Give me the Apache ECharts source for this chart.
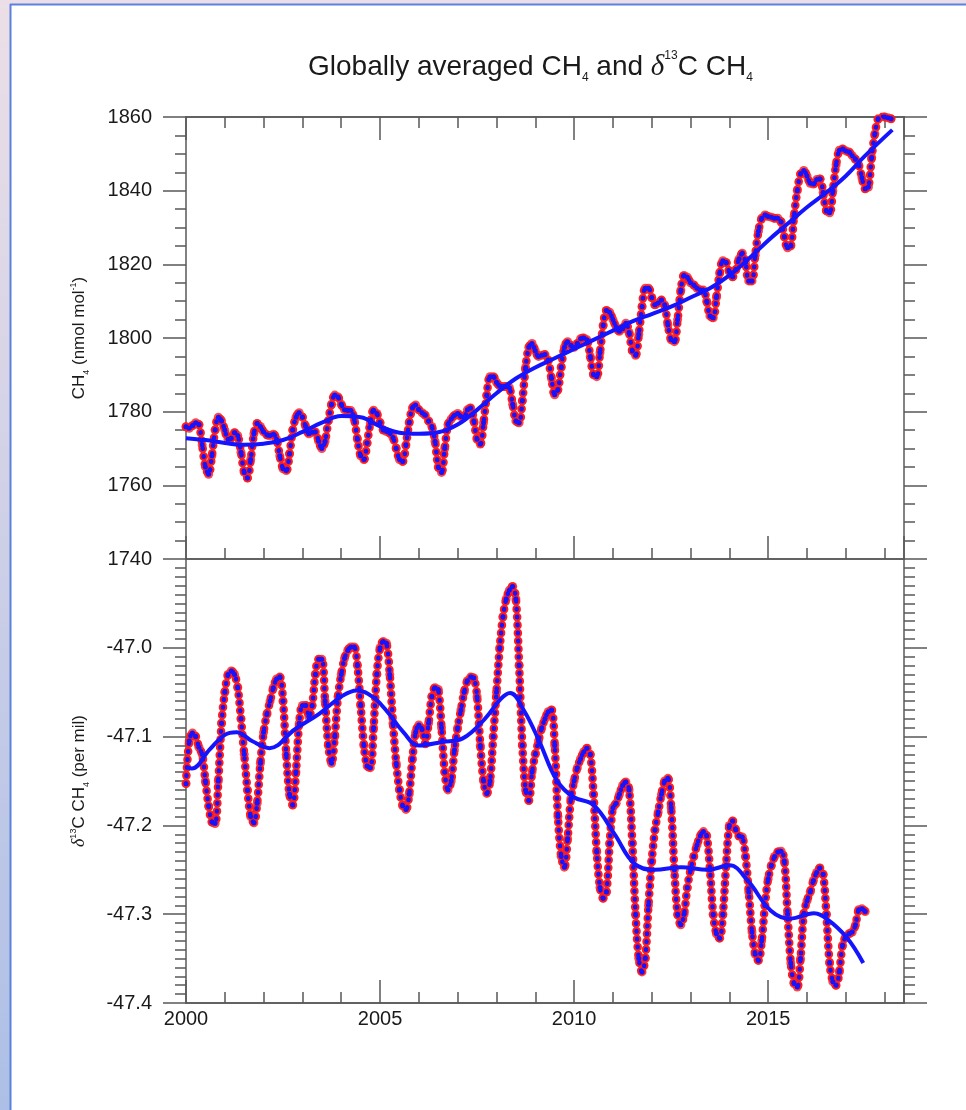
<!DOCTYPE html>
<html>
<head>
<meta charset="utf-8">
<title>Globally averaged CH4 and d13C CH4</title>
<script src="https://cdn.jsdelivr.net/npm/echarts@6/dist/echarts.min.js"></script>
<style>
  html, body { margin: 0; padding: 0; background: #fff; }
  #main { width: 966px; height: 1110px; }
</style>
</head>
<body>
<div id="main"></div>
<script>
// monthly CH4 (nmol/mol), Jan 2000 ... Mar 2018
var ch4Monthly = [
  1775.9,1775.5,1776.2,1777.0,1776.5,1771.0,1765.0,1763.0,1768.0,1775.0,1778.5,1777.5, // 2000
  1775.0,1772.5,1772.8,1774.3,1773.5,1769.0,1763.5,1762.0,1767.0,1774.0,1776.8,1776.0, // 2001
  1774.5,1773.7,1773.5,1773.9,1772.5,1768.0,1764.5,1764.0,1768.5,1775.0,1778.5,1779.7, // 2002
  1778.5,1776.0,1774.0,1774.4,1774.5,1772.0,1770.0,1772.0,1777.5,1782.0,1784.5,1784.0, // 2003
  1782.0,1780.5,1780.4,1780.3,1778.0,1772.5,1768.0,1767.0,1771.5,1777.0,1780.4,1779.5, // 2004
  1777.0,1775.0,1774.6,1774.2,1773.0,1770.0,1767.0,1766.5,1771.0,1777.0,1781.0,1781.8, // 2005
  1780.5,1779.7,1779.0,1777.5,1776.0,1772.0,1765.0,1763.5,1770.0,1776.5,1778.0,1779.0, // 2006
  1779.5,1778.7,1778.5,1780.5,1781.0,1777.5,1772.5,1771.2,1777.0,1784.5,1789.5,1789.5, // 2007
  1788.0,1787.0,1786.8,1786.8,1786.5,1782.0,1777.5,1777.0,1783.0,1792.0,1797.5,1798.5, // 2008
  1796.5,1795.0,1795.3,1795.5,1794.0,1789.0,1784.6,1786.0,1792.0,1797.5,1799.0,1798.0, // 2009
  1797.5,1798.5,1799.8,1800.0,1799.5,1795.0,1790.0,1789.5,1796.0,1803.5,1807.5,1807.0, // 2010
  1805.0,1803.0,1801.8,1802.5,1804.0,1801.5,1796.5,1795.3,1801.0,1808.5,1813.5,1813.5, // 2011
  1811.0,1809.0,1809.5,1810.3,1809.0,1803.5,1799.5,1799.0,1805.0,1813.0,1817.0,1816.5, // 2012
  1815.0,1814.4,1813.5,1813.0,1813.0,1810.0,1806.0,1805.5,1811.0,1817.5,1821.0,1820.5, // 2013
  1818.0,1816.6,1818.5,1821.5,1823.0,1820.5,1815.5,1815.5,1822.5,1829.0,1832.5,1833.4, // 2014
  1833.0,1832.8,1832.5,1832.5,1831.5,1827.5,1824.5,1825.0,1833.0,1840.0,1844.5,1845.5, // 2015
  1844.0,1842.0,1841.8,1843.0,1843.2,1839.5,1834.5,1834.0,1840.0,1847.0,1851.0,1851.3, // 2016
  1850.8,1850.5,1849.5,1848.5,1847.0,1843.5,1840.5,1841.0,1849.0,1855.5,1859.5,1860.5, // 2017
  1860.0,1859.8,1859.5                                                                 // 2018
];

// deseasonalised CH4 trend
var ch4TrendYears  = [2000, 2000.5, 2001, 2001.5, 2002, 2002.5, 2003, 2003.5, 2004, 2004.5, 2005, 2005.5, 2006, 2006.5,
                      2007, 2007.5, 2008, 2008.5, 2009, 2009.5, 2010, 2010.5, 2011, 2011.5, 2012, 2012.5, 2013, 2013.5,
                      2014, 2014.5, 2015, 2015.5, 2016, 2016.5, 2017, 2017.5, 2018.2];
var ch4TrendValues = [1772.8, 1772.3, 1771.5, 1771.0, 1771.3, 1772.3, 1774.5, 1777.0, 1778.8, 1778.5, 1776.0, 1774.3, 1774.0, 1774.4,
                      1776.5, 1780.5, 1785.0, 1789.0, 1792.0, 1794.5, 1797.0, 1799.5, 1802.0, 1804.5, 1806.5, 1808.5, 1811.0, 1813.5,
                      1817.0, 1821.5, 1826.5, 1831.0, 1835.5, 1839.5, 1844.0, 1849.5, 1856.5];

// monthly d13C of CH4 (per mil), Jan 2000 ... Jul 2017
var d13Monthly = [
  -47.153,-47.105,-47.096,-47.100,-47.112,-47.120,-47.150,-47.178,-47.196,-47.198,-47.150,-47.085, // 2000
  -47.050,-47.030,-47.026,-47.030,-47.045,-47.080,-47.120,-47.160,-47.190,-47.197,-47.175,-47.130, // 2001
  -47.095,-47.075,-47.060,-47.045,-47.035,-47.033,-47.060,-47.120,-47.165,-47.177,-47.140,-47.085, // 2002
  -47.065,-47.065,-47.078,-47.065,-47.030,-47.013,-47.013,-47.060,-47.110,-47.130,-47.100,-47.055, // 2003
  -47.030,-47.012,-47.003,-46.999,-46.999,-47.020,-47.065,-47.110,-47.133,-47.135,-47.090,-47.030, // 2004
  -47.000,-46.993,-46.995,-47.030,-47.085,-47.130,-47.160,-47.178,-47.182,-47.165,-47.125,-47.095, // 2005
  -47.087,-47.092,-47.108,-47.085,-47.055,-47.045,-47.047,-47.090,-47.140,-47.160,-47.150,-47.115, // 2006
  -47.090,-47.070,-47.050,-47.037,-47.033,-47.034,-47.055,-47.110,-47.150,-47.164,-47.150,-47.100, // 2007
  -47.050,-47.000,-46.965,-46.945,-46.935,-46.931,-46.945,-47.020,-47.110,-47.160,-47.172,-47.140, // 2008
  -47.120,-47.105,-47.090,-47.080,-47.072,-47.070,-47.110,-47.190,-47.235,-47.247,-47.215,-47.170, // 2009
  -47.150,-47.135,-47.125,-47.117,-47.113,-47.120,-47.165,-47.230,-47.270,-47.282,-47.275,-47.220, // 2010
  -47.180,-47.175,-47.165,-47.155,-47.151,-47.160,-47.220,-47.300,-47.350,-47.365,-47.350,-47.290, // 2011
  -47.240,-47.205,-47.185,-47.165,-47.150,-47.147,-47.180,-47.250,-47.300,-47.312,-47.300,-47.270, // 2012
  -47.250,-47.235,-47.222,-47.212,-47.207,-47.212,-47.250,-47.300,-47.322,-47.327,-47.300,-47.245, // 2013
  -47.200,-47.195,-47.205,-47.212,-47.213,-47.235,-47.275,-47.320,-47.345,-47.352,-47.330,-47.290, // 2014
  -47.260,-47.245,-47.235,-47.230,-47.229,-47.240,-47.300,-47.355,-47.378,-47.382,-47.350,-47.300, // 2015
  -47.285,-47.275,-47.262,-47.253,-47.248,-47.255,-47.300,-47.355,-47.376,-47.380,-47.365,-47.335, // 2016
  -47.325,-47.322,-47.320,-47.312,-47.295,-47.294,-47.297                                          // 2017
];

// d13C trend
var d13TrendYears  = [2000, 2000.15, 2000.6, 2001, 2001.3, 2001.7, 2002.15, 2002.8, 2003.44, 2004, 2004.4, 2004.8, 2005.15,
                      2005.6, 2006, 2006.6, 2007.13, 2007.7, 2008.1, 2008.35, 2008.7, 2009.1, 2009.55, 2009.98, 2010.5,
                      2011.03, 2011.55, 2012.07, 2012.76, 2013.44, 2014, 2014.47, 2015.07, 2015.57, 2016.18, 2016.5,
                      2017.02, 2017.45];
var d13TrendValues = [-47.134, -47.136, -47.115, -47.098, -47.095, -47.105, -47.113, -47.092, -47.074, -47.055, -47.048, -47.055, -47.070,
                      -47.095, -47.110, -47.106, -47.102, -47.080, -47.058, -47.051, -47.070, -47.105, -47.149, -47.168, -47.177,
                      -47.209, -47.243, -47.250, -47.247, -47.250, -47.245, -47.262, -47.296, -47.305, -47.299, -47.305,
                      -47.326, -47.355];

var ch4Ticks = [1740, 1760, 1780, 1800, 1820, 1840, 1860];
var d13Ticks = [-47.4, -47.3, -47.2, -47.1, -47.0];
var yearTicks = [2000, 2005, 2010, 2015];

var startYear = 2000;
function monthly(values) {
  return values.map(function(v, i) { return [startYear + i / 12, v]; });
}
function pairs(xs, ys) {
  return xs.map(function(x, i) { return [x, ys[i]]; });
}

var axisColor = '#585858';
var fontFamily = '"Liberation Sans", Arial, Helvetica, sans-serif';
var red = '#ff1c1c';
var blue = '#1414ff';

function xAxisDef(grid, pos, interval, len, showLabel) {
  return {
    type: 'value', gridIndex: grid, position: pos,
    min: 2000, max: 2018.5, interval: interval,
    axisLine: { onZero: false, lineStyle: { color: axisColor, width: 1.5 } },
    axisTick: { inside: true, length: len, lineStyle: { color: axisColor, width: 1.5 } },
    axisLabel: {
      show: showLabel, margin: 6, color: '#1a1a1a', fontSize: 20, fontFamily: fontFamily,
      formatter: function(v) { return yearTicks.indexOf(v) >= 0 ? String(v) : ''; }
    },
    splitLine: { show: false }
  };
}

function yAxisDef(grid, pos, min, max, interval, minorSplit, showLabel, fmt, name) {
  return {
    type: 'value', gridIndex: grid, position: pos,
    min: min, max: max, interval: interval,
    axisLine: { lineStyle: { color: axisColor, width: 1.5 } },
    axisTick: { inside: false, length: 23, lineStyle: { color: axisColor, width: 1.5 } },
    minorTick: { show: true, splitNumber: minorSplit, length: 11, lineStyle: { color: axisColor, width: 1.5 } },
    axisLabel: { show: showLabel, margin: 34, color: '#1a1a1a', fontSize: 20, fontFamily: fontFamily, formatter: fmt },
    splitLine: { show: false },
    minorSplitLine: { show: false },
    name: name || '',
    nameLocation: 'middle',
    nameRotate: 90,
    nameGap: 97,
    nameTextStyle: {
      color: '#1a1a1a', fontSize: 17, fontFamily: fontFamily, lineHeight: 20,
      rich: {
        s: { fontSize: 9, fontFamily: fontFamily, color: '#1a1a1a', verticalAlign: 'bottom', lineHeight: 20, padding: [0, 0, -2, 0] },
        p: { fontSize: 9, fontFamily: fontFamily, color: '#1a1a1a', verticalAlign: 'top', lineHeight: 20 },
        d: { fontSize: 18, fontFamily: '"Liberation Serif", serif', fontStyle: 'italic', color: '#1a1a1a', lineHeight: 20 }
      }
    }
  };
}

// one measured record = red dots with a blue dotted core
function dotSeries(name, xIdx, yIdx, values) {
  var data = monthly(values);
  return [
    { name: name + ' red path', type: 'line', xAxisIndex: xIdx, yAxisIndex: yIdx, data: data,
      showSymbol: false, smooth: 0.35, lineStyle: { color: red, width: 8.5, type: [0.5, 7.5], cap: 'round' } },
    { name: name + ' red', type: 'scatter', xAxisIndex: xIdx, yAxisIndex: yIdx, data: data,
      symbol: 'circle', symbolSize: 9, itemStyle: { color: red } },
    { name: name + ' blue', type: 'line', xAxisIndex: xIdx, yAxisIndex: yIdx, data: data,
      symbol: 'circle', symbolSize: 5, showAllSymbol: true, smooth: 0.35, itemStyle: { color: blue },
      lineStyle: { color: blue, width: 4.5, type: [0.5, 7.5], cap: 'round' } }
  ];
}

var chart = echarts.init(document.getElementById('main'));

var option = {
  backgroundColor: '#ffffff',
  animation: false,
  title: {
    text: 'Globally averaged CH{s|4} and {d|δ}{p|13}C CH{s|4}',
    left: 303, top: 45,
    textStyle: {
      color: '#1a1a1a', fontSize: 28, fontWeight: 'normal', fontFamily: fontFamily, lineHeight: 34,
      rich: {
        s: { fontSize: 12, fontFamily: fontFamily, color: '#1a1a1a', verticalAlign: 'bottom', lineHeight: 34 },
        p: { fontSize: 12, fontFamily: fontFamily, color: '#1a1a1a', verticalAlign: 'top', lineHeight: 34 },
        d: { fontSize: 29, fontFamily: '"Liberation Serif", serif', fontStyle: 'italic', color: '#1a1a1a', lineHeight: 34 }
      }
    }
  },
  graphic: [
    { type: 'rect', shape: { x: 0, y: 0, width: 10, height: 1110 }, silent: true,
      style: { fill: new echarts.graphic.LinearGradient(0, 0, 0, 1, [
        { offset: 0, color: '#ecdfe7' }, { offset: 1, color: '#adbfe6' }]) } },
    { type: 'rect', shape: { x: 0, y: 0, width: 966, height: 4 }, silent: true, style: { fill: '#eadfe8' } },
    { type: 'line', shape: { x1: 10.5, y1: 4, x2: 10.5, y2: 1110 }, silent: true, style: { stroke: '#5a82dc', lineWidth: 2 } },
    { type: 'line', shape: { x1: 10, y1: 4.5, x2: 966, y2: 4.5 }, silent: true, style: { stroke: '#5a82dc', lineWidth: 2 } }
  ],
  grid: [
    { left: 186, width: 718, top: 117, height: 442 },
    { left: 186, width: 718, top: 559, height: 444 }
  ],
  xAxis: [
    xAxisDef(0, 'bottom', 5, 23, false),
    xAxisDef(0, 'bottom', 1, 11, false),
    xAxisDef(0, 'top', 5, 23, false),
    xAxisDef(0, 'top', 1, 11, false),
    xAxisDef(1, 'bottom', 5, 23, true),
    xAxisDef(1, 'bottom', 1, 11, false)
  ],
  yAxis: [
    yAxisDef(0, 'left', 1740, 1860, 20, 4, true, function(v) { return ch4Ticks.indexOf(v) >= 0 ? String(v) : ''; },
      'CH{s|4} (nmol mol{p|-1})'),
    yAxisDef(0, 'right', 1740, 1860, 20, 4, false),
    yAxisDef(1, 'left', -47.4, -46.9, 0.1, 10, true, function(v) {
      for (var i = 0; i < d13Ticks.length; i++) {
        if (Math.abs(v - d13Ticks[i]) < 1e-6) return d13Ticks[i].toFixed(1);
      }
      return '';
    }, '{d|δ}{p|13}C CH{s|4} (per mil)'),
    yAxisDef(1, 'right', -47.4, -46.9, 0.1, 10, false)
  ],
  series: [].concat(
    dotSeries('CH4', 0, 0, ch4Monthly),
    [{ name: 'CH4 trend', type: 'line', xAxisIndex: 0, yAxisIndex: 0, data: pairs(ch4TrendYears, ch4TrendValues),
       showSymbol: false, smooth: 0.4, lineStyle: { color: blue, width: 4 } }],
    dotSeries('d13C', 4, 2, d13Monthly),
    [{ name: 'd13C trend', type: 'line', xAxisIndex: 4, yAxisIndex: 2, data: pairs(d13TrendYears, d13TrendValues),
       showSymbol: false, smooth: 0.4, lineStyle: { color: blue, width: 4 } }]
  )
};

chart.setOption(option);
</script>
</body>
</html>
